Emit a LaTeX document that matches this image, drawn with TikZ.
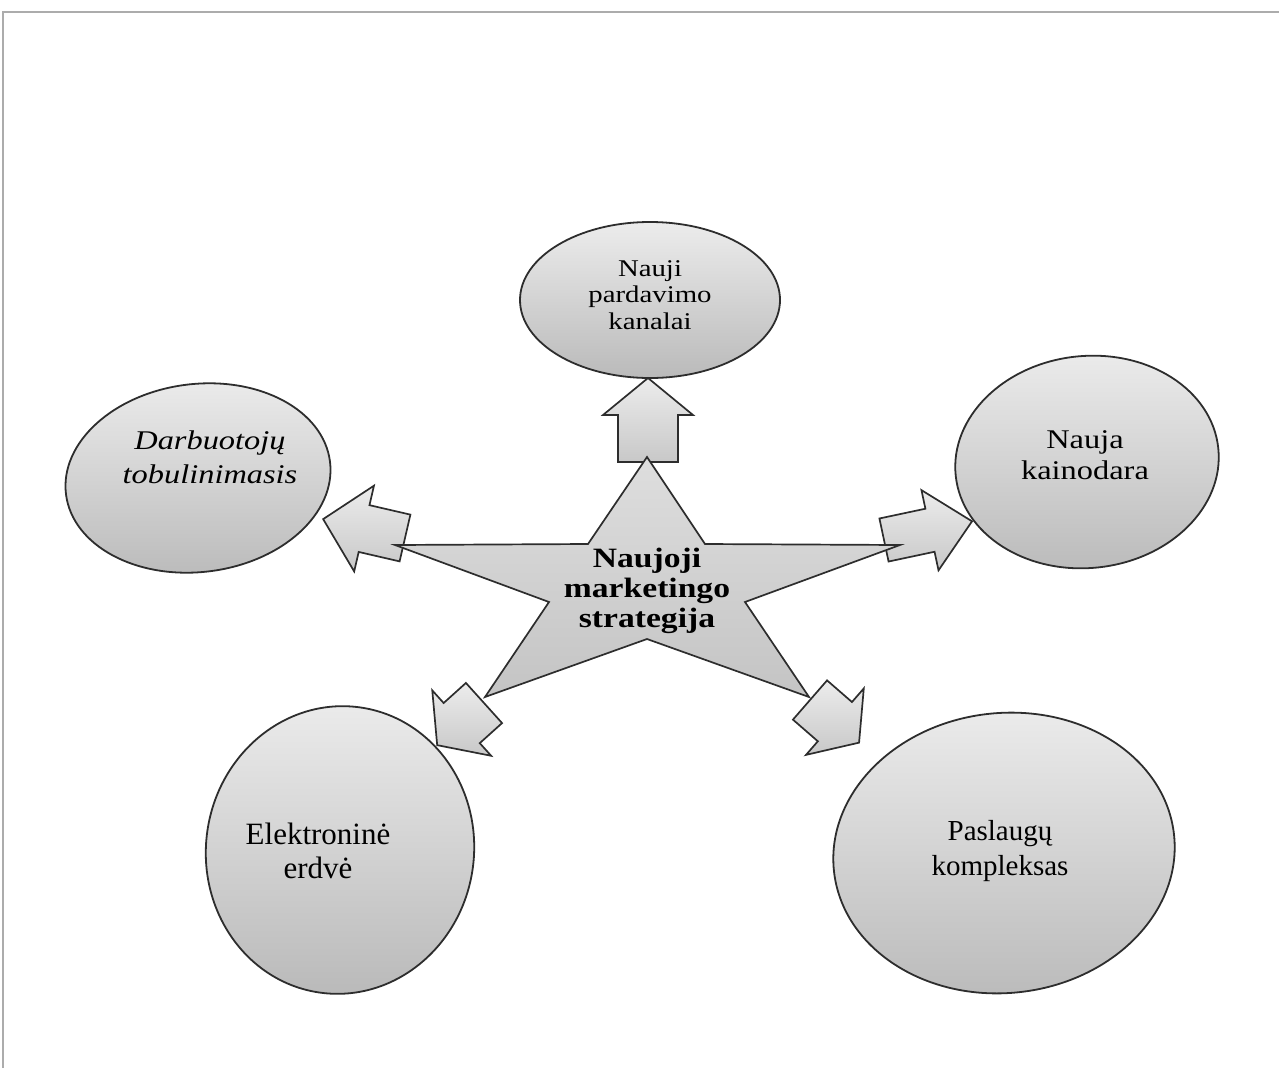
\documentclass[tikz,border=0pt]{standalone}
\usepackage{fontspec}
\setmainfont{Liberation Serif}
\newfontfamily\wfont[FakeStretch=1.2]{Liberation Serif}
\usetikzlibrary{shapes.geometric}
\definecolor{linec}{RGB}{45,45,45}
\definecolor{framec}{RGB}{172,172,172}
\definecolor{gtop}{RGB}{236,236,236}
\definecolor{gbot}{RGB}{186,186,186}
\definecolor{atop}{RGB}{236,236,236}
\definecolor{abot}{RGB}{200,200,200}
\definecolor{stop}{RGB}{222,222,222}
\definecolor{sbot}{RGB}{196,196,196}
\tikzset{
  bubble/.style={ellipse, draw=linec, line width=1.8pt, top color=gtop, bottom color=gbot, inner sep=0pt},
  blockarr/.style={draw=linec, line width=1.7pt, top color=atop, bottom color=abot, line join=miter},
  starsty/.style={draw=linec, line width=1.7pt, top color=stop, bottom color=sbot, line join=miter},
  lbl/.style={align=center, text=black, inner sep=0pt},
}
\newcommand\barrow[6]{% tail, angle, length, head length, shaft half, head half
  \begin{scope}[shift={#1}, rotate=#2]
    \draw[blockarr] (0,-#5) -- ({#3-#4},-#5) -- ({#3-#4},-#6) -- (#3,0) -- ({#3-#4},#6) -- ({#3-#4},#5) -- (0,#5) -- cycle;
  \end{scope}}
\begin{document}
\begin{tikzpicture}[x=1pt,y=1pt]
\useasboundingbox (0,0) rectangle (1279,-1068);
\draw[framec, line width=2.2pt] (3,-1068) -- (3,-12) -- (1279,-12);

% ellipses
\node[bubble, minimum width=260pt, minimum height=156pt] (e1) at (650,-300) {};
\node[bubble, minimum width=266pt, minimum height=188pt, rotate=7] (e2) at (198,-478) {};
\node[bubble, minimum width=264pt, minimum height=212pt, rotate=6] (e3) at (1087,-462) {};
\node[bubble, minimum width=268pt, minimum height=288pt, rotate=-8] (e4) at (340,-850) {};
\node[bubble, minimum width=342pt, minimum height=280pt, rotate=6] (e5) at (1004,-853) {};

% block arrows
\barrow{(648,-462)}{90}{84}{37}{30}{45}
\barrow{(405,-538)}{167}{84}{42}{24}{44}
\barrow{(884,-540)}{12}{90}{43}{22}{41}
\barrow{(484,-703)}{222}{63}{33}{27}{44}
\barrow{(810,-700)}{-41}{65}{32}{26}{44}

% star
\coordinate (sT) at (647,-457);
\coordinate (sR) at (900,-545);
\coordinate (sBR) at (809,-697);
\coordinate (sBL) at (485,-697);
\coordinate (sL) at (395,-545);
\draw[starsty] (sT) -- (705,-544) -- (sR) -- (745,-602) -- (sBR) -- (647,-639) -- (sBL) -- (549,-602) -- (sL) -- (588,-544) -- cycle;

% texts
\node[lbl, font=\wfont\bfseries\fontsize{28}{30}\selectfont] (st) at (647,-591) {Naujoji\\marketingo\\strategija};
\node[lbl, font=\wfont\fontsize{24}{26.5}\selectfont] (t1) at (650,-295) {Nauji\\pardavimo\\kanalai};
\node[lbl, font=\wfont\itshape\fontsize{27}{34}\selectfont] (t2) at (210,-457) {Darbuotojų\\tobulinimasis};
\node[lbl, font=\wfont\fontsize{27}{31}\selectfont] (t3) at (1085,-455) {Nauja\\kainodara};
\node[lbl, font=\fontsize{31}{34}\selectfont] (t4) at (318,-851) {Elektroninė\\erdvė};
\node[lbl, font=\fontsize{29}{35}\selectfont] (t5) at (1000,-851) {Paslaugų\\kompleksas};
\end{tikzpicture}
\end{document}
